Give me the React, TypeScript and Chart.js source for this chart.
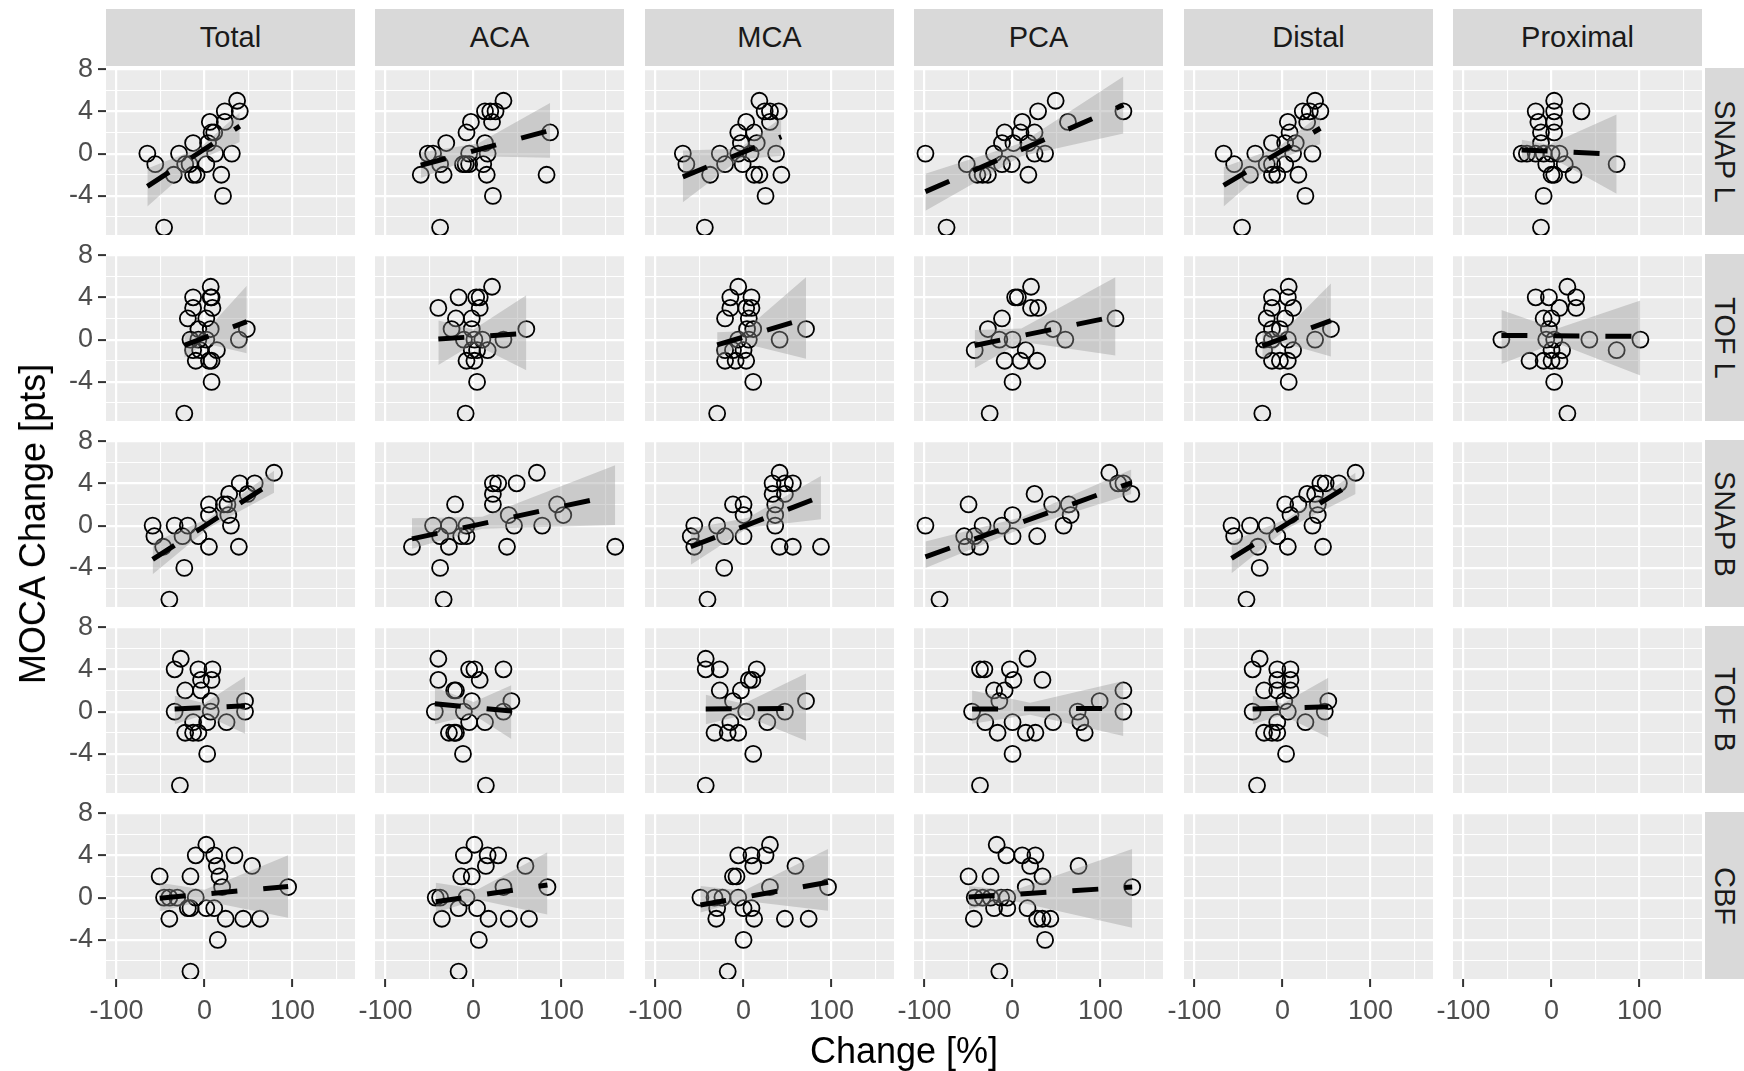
import React, { useEffect, useRef } from "react";
import { Chart, registerables } from "chart.js";
Chart.register(...registerables);

type P = number[];

const ROWS = ["SNAP L", "TOF L", "SNAP B", "TOF B", "CBF"];
const COLS = ["Total", "ACA", "MCA", "PCA", "Distal", "Proximal"];
const X_TITLE = "Change [%]";
const Y_TITLE = "MOCA Change [pts]";
const X_TICKS = [-100, 0, 100];
const X_MINOR = [-50, 50, 150];
const Y_TICKS = [-4, 0, 4, 8];
const Y_MINOR = [-6, -2, 2, 6];
const X_RANGE = [-112, 171];
const Y_RANGE = [-7.7, 8.1];

// ---------- SNAP L ----------
const SNAP_L_TOTAL: P[] = [[37,5],[23,4],[40,4],[6,3],[23,3],[8,2],[11,2],[-13,1],[4,1],[-65,0],[-29,0],[12,0],[31,0],[-56,-1],[-22,-1],[-17,-1],[2,-1],[-35,-2],[-13,-2],[-9,-2],[19,-2],[21,-4],[-46,-7]];
const SNAP_L_TOTAL_FIT: P[] = [[-65,-3.1],[40,2.6]];
const SNAP_L_TOTAL_BAND: P[] = [[-65,-5.0,-1.4],[-5,-0.55,0.55],[40,1.1,3.9]];

const SNAP_L_ACA: P[] = [[34,5],[13,4],[19,4],[25,4],[-3,3],[21,3],[-8,2],[87,2],[-31,1],[13,1],[-52,0],[-46,0],[-5,0],[16,0],[-38,-1],[-12,-1],[-9,-1],[-5,-1],[11,-1],[-60,-2],[-34,-2],[15,-2],[83,-2],[22,-4],[-38,-7]];
const SNAP_L_ACA_FIT: P[] = [[-60,-1.1],[87,2.2]];
const SNAP_L_ACA_BAND: P[] = [[-60,-2.3,0.1],[5,-0.25,0.95],[87,-0.4,4.8]];

const SNAP_L_MCA: P[] = [[18,5],[24,4],[30,4],[40,4],[3,3],[30,3],[-6,2],[12,2],[-3,1],[15,1],[-69,0],[-27,0],[-6,0],[8,0],[37,0],[-65,-1],[-21,-1],[-1,-1],[-38,-2],[12,-2],[18,-2],[43,-2],[25,-4],[-44,-7]];
const SNAP_L_MCA_FIT: P[] = [[-69,-2.2],[43,1.6]];
const SNAP_L_MCA_BAND: P[] = [[-69,-4.6,0.3],[-5,-0.55,0.45],[43,-0.2,3.4]];

const SNAP_L_PCA: P[] = [[49,5],[29,4],[126,4],[63,3],[11,3],[-9,2],[9,2],[25,2],[-12,1],[1,1],[18,1],[-99,0],[-21,0],[25,0],[37,0],[-52,-1],[-12,-1],[-1,-1],[-40,-2],[-34,-2],[-28,-2],[18,-2],[-75,-7]];
const SNAP_L_PCA_FIT: P[] = [[-99,-3.6],[126,4.6]];
const SNAP_L_PCA_BAND: P[] = [[-99,-5.4,-1.9],[10,-0.25,1.0],[126,1.9,7.3]];

const SNAP_L_DISTAL: P[] = [[37,5],[23,4],[31,4],[43,4],[6,3],[28,3],[8,2],[-12,1],[3,1],[15,1],[-67,0],[-31,0],[12,0],[34,0],[-55,-1],[-18,-1],[-12,-1],[3,-1],[-37,-2],[-12,-2],[-6,-2],[18,-2],[26,-4],[-46,-7]];
const SNAP_L_DISTAL_FIT: P[] = [[-67,-3.0],[43,2.4]];
const SNAP_L_DISTAL_BAND: P[] = [[-67,-5.0,-1.3],[-5,-0.55,0.6],[43,0.9,3.7]];

const SNAP_L_PROXIMAL: P[] = [[3,5],[-18,4],[3,4],[34,4],[-15,3],[3,3],[-12,2],[3,2],[-12,1],[-34,0],[-28,0],[-18,0],[-9,0],[0,0],[9,0],[74,-1],[-6,-1],[15,-1],[0,-2],[3,-2],[25,-2],[-9,-4],[-12,-7]];
const SNAP_L_PROXIMAL_FIT: P[] = [[-34,0.35],[74,-0.05]];
const SNAP_L_PROXIMAL_BAND: P[] = [[-34,-0.6,1.3],[-3,-0.25,0.85],[74,-3.8,3.7]];

// ---------- TOF L ----------
const TOF_L_TOTAL: P[] = [[7,5],[-13,4],[7,4],[8,4],[-13,3],[9,3],[-19,2],[2,2],[-7,1],[7,1],[48,1],[-16,0],[-7,0],[2,0],[39,0],[-13,-1],[-5,-1],[14,-1],[-10,-2],[5,-2],[8,-2],[8,-4],[-23,-7]];
const TOF_L_TOTAL_FIT: P[] = [[-23,-0.55],[48,1.7]];
const TOF_L_TOTAL_BAND: P[] = [[-23,-1.7,0.6],[0,-0.35,0.7],[48,-1.3,5.1]];

const TOF_L_ACA: P[] = [[21,5],[-17,4],[3,4],[7,4],[-40,3],[7,3],[-20,2],[-2,2],[-25,1],[-2,1],[60,1],[34,0],[-11,0],[1,0],[10,0],[16,-1],[-2,-1],[4,-1],[-8,-2],[1,-2],[4,-4],[-9,-7]];
const TOF_L_ACA_FIT: P[] = [[-40,0.05],[60,0.6]];
const TOF_L_ACA_BAND: P[] = [[-40,-2.4,1.8],[0,-0.4,0.95],[60,-2.9,4.2]];

const TOF_L_MCA: P[] = [[-6,5],[-15,4],[9,4],[-15,3],[3,3],[9,3],[-21,2],[6,2],[4,1],[11,1],[71,1],[-6,0],[6,0],[41,0],[-21,-1],[-12,-1],[0,-1],[-21,-2],[-9,-2],[3,-2],[11,-4],[-30,-7]];
const TOF_L_MCA_FIT: P[] = [[-30,-0.5],[71,2.0]];
const TOF_L_MCA_BAND: P[] = [[-30,-1.8,0.7],[0,-0.35,0.8],[71,-1.8,5.9]];

const TOF_L_PCA: P[] = [[21,5],[3,4],[6,4],[21,3],[29,3],[-12,2],[117,2],[-28,1],[46,1],[-15,0],[0,0],[60,0],[-43,-1],[15,-1],[-9,-2],[9,-2],[28,-2],[0,-4],[-26,-7]];
const TOF_L_PCA_FIT: P[] = [[-43,-0.55],[117,2.2]];
const TOF_L_PCA_BAND: P[] = [[-43,-2.7,0.9],[10,-0.2,1.05],[117,-1.5,5.9]];

const TOF_L_DISTAL: P[] = [[7,5],[-12,4],[6,4],[-12,3],[12,3],[-18,2],[3,2],[-12,1],[-3,1],[55,1],[-21,0],[-12,0],[6,0],[37,0],[-21,-1],[12,-1],[-12,-2],[-3,-2],[6,-2],[7,-4],[-23,-7]];
const TOF_L_DISTAL_FIT: P[] = [[-23,-0.6],[55,1.8]];
const TOF_L_DISTAL_BAND: P[] = [[-23,-1.9,0.7],[0,-0.3,0.7],[55,-1.6,5.3]];

const TOF_L_PROXIMAL: P[] = [[18,5],[-18,4],[-3,4],[28,4],[9,3],[28,3],[-9,2],[0,2],[-3,1],[-57,0],[-6,0],[3,0],[43,0],[101,0],[0,-1],[12,-1],[74,-1],[-25,-2],[-9,-2],[0,-2],[9,-2],[3,-4],[18,-7]];
const TOF_L_PROXIMAL_FIT: P[] = [[-57,0.4],[101,0.3]];
const TOF_L_PROXIMAL_BAND: P[] = [[-57,-2.3,2.8],[5,-0.3,1.0],[101,-3.4,3.7]];

// ---------- SNAP B ----------
const SNAP_B_TOTAL: P[] = [[79,5],[40,4],[57,4],[28,3],[49,3],[5,2],[22,2],[26,2],[5,1],[27,1],[-59,0],[-34,0],[-19,0],[30,0],[-57,-1],[-25,-1],[-7,-1],[-47,-2],[5,-2],[39,-2],[-23,-4],[-40,-7]];
const SNAP_B_TOTAL_FIT: P[] = [[-59,-3.2],[79,4.2]];
const SNAP_B_TOTAL_BAND: P[] = [[-59,-4.6,-1.6],[5,-0.2,0.7],[79,3.1,5.2]];

const SNAP_B_ACA: P[] = [[72,5],[22,4],[28,4],[49,4],[22,3],[-21,2],[22,2],[95,2],[40,1],[102,1],[-46,0],[-28,0],[-8,0],[46,0],[78,0],[-38,-1],[-14,-1],[-8,-1],[-70,-2],[-28,-2],[38,-2],[161,-2],[-38,-4],[-34,-7]];
const SNAP_B_ACA_FIT: P[] = [[-70,-1.25],[161,2.9]];
const SNAP_B_ACA_BAND: P[] = [[-70,-2.2,0.7],[10,-0.3,0.85],[161,0.05,5.7]];

const SNAP_B_MCA: P[] = [[41,5],[33,4],[47,4],[56,4],[33,3],[47,3],[-12,2],[0,2],[36,2],[0,1],[36,1],[-56,0],[-30,0],[36,0],[-60,-1],[-21,-1],[0,-1],[-56,-2],[41,-2],[56,-2],[88,-2],[-22,-4],[-41,-7]];
const SNAP_B_MCA_FIT: P[] = [[-60,-2.0],[88,2.75]];
const SNAP_B_MCA_BAND: P[] = [[-60,-3.7,-0.3],[5,-0.2,0.75],[88,0.6,4.7]];

const SNAP_B_PCA: P[] = [[110,5],[120,4],[126,4],[25,3],[135,3],[-50,2],[45,2],[64,2],[0,1],[66,1],[-99,0],[-34,0],[-12,0],[58,0],[-55,-1],[-43,-1],[0,-1],[28,-1],[-52,-2],[-37,-2],[-83,-7]];
const SNAP_B_PCA_FIT: P[] = [[-99,-2.95],[135,4.05]];
const SNAP_B_PCA_BAND: P[] = [[-99,-4.0,-1.5],[10,-0.3,0.8],[135,3.0,5.3]];

const SNAP_B_DISTAL: P[] = [[83,5],[43,4],[49,4],[64,4],[28,3],[37,3],[3,2],[18,2],[40,2],[9,1],[40,1],[-58,0],[-37,0],[-18,0],[34,0],[-55,-1],[-6,-1],[-28,-2],[6,-2],[46,-2],[-26,-4],[-41,-7]];
const SNAP_B_DISTAL_FIT: P[] = [[-58,-3.1],[83,4.2]];
const SNAP_B_DISTAL_BAND: P[] = [[-58,-4.5,-1.5],[5,-0.3,0.65],[83,3.0,5.0]];

// ---------- TOF B ----------
const TOF_B_TOTAL: P[] = [[-27,5],[-34,4],[-7,4],[9,4],[-4,3],[8,3],[-22,2],[-4,2],[7,1],[46,1],[-34,0],[7,0],[46,0],[-13,-1],[3,-1],[25,-1],[-22,-2],[-13,-2],[-7,-2],[3,-4],[-28,-7]];
const TOF_B_TOTAL_FIT: P[] = [[-34,0.25],[46,0.55]];
const TOF_B_TOTAL_BAND: P[] = [[-34,-1.2,1.5],[0,-0.3,0.8],[46,-2.1,3.3]];

const TOF_B_ACA: P[] = [[-40,5],[-5,4],[1,4],[34,4],[-40,3],[7,3],[-22,2],[-20,2],[-2,1],[43,1],[-44,0],[-11,0],[34,0],[-5,-1],[13,-1],[-28,-2],[-22,-2],[-20,-2],[-12,-4],[14,-7]];
const TOF_B_ACA_FIT: P[] = [[-44,0.75],[43,0.05]];
const TOF_B_ACA_BAND: P[] = [[-44,-1.2,2.3],[0,-0.3,0.9],[43,-2.6,2.5]];

const TOF_B_MCA: P[] = [[-43,5],[-43,4],[-27,4],[15,4],[6,3],[10,3],[-27,2],[-3,2],[-12,1],[71,1],[3,0],[47,0],[-15,-1],[27,-1],[-33,-2],[-18,-2],[-6,-2],[11,-4],[-43,-7]];
const TOF_B_MCA_FIT: P[] = [[-43,0.25],[71,0.3]];
const TOF_B_MCA_BAND: P[] = [[-43,-1.2,1.6],[0,-0.35,0.75],[71,-2.75,3.6]];

const TOF_B_PCA: P[] = [[17,5],[-37,4],[-32,4],[-3,4],[1,3],[34,3],[-21,2],[-9,2],[126,2],[-15,1],[99,1],[-46,0],[74,0],[126,0],[-31,-1],[0,-1],[46,-1],[77,-1],[-17,-2],[15,-2],[26,-2],[82,-2],[0,-4],[-37,-7]];
const TOF_B_PCA_FIT: P[] = [[-46,0.25],[126,0.3]];
const TOF_B_PCA_BAND: P[] = [[-46,-1.15,2.0],[20,-0.3,0.85],[126,-2.3,2.9]];

const TOF_B_DISTAL: P[] = [[-26,5],[-34,4],[-6,4],[9,4],[-6,3],[9,3],[-21,2],[-6,2],[9,2],[2,1],[52,1],[-34,0],[6,0],[48,0],[-6,-1],[26,-1],[-21,-2],[-12,-2],[-6,-2],[4,-4],[-29,-7]];
const TOF_B_DISTAL_FIT: P[] = [[-34,0.25],[52,0.45]];
const TOF_B_DISTAL_BAND: P[] = [[-34,-1.2,1.5],[0,-0.35,0.75],[52,-2.45,3.2]];

// ---------- CBF ----------
const CBF_TOTAL: P[] = [[2,5],[-10,4],[11,4],[34,4],[14,3],[54,3],[-51,2],[-16,2],[17,2],[20,1],[95,1],[-46,0],[-40,0],[-31,0],[-10,0],[-19,-1],[-16,-1],[2,-1],[11,-1],[-40,-2],[24,-2],[44,-2],[63,-2],[15,-4],[-16,-7]];
const CBF_TOTAL_FIT: P[] = [[-51,-0.05],[95,1.05]];
const CBF_TOTAL_BAND: P[] = [[-51,-1.3,1.4],[0,-0.3,0.75],[95,-1.9,4.0]];

const CBF_ACA: P[] = [[1,5],[-11,4],[16,4],[28,4],[14,3],[59,3],[-14,2],[-2,2],[34,1],[84,1],[-43,0],[-38,0],[-8,0],[-17,-1],[4,-1],[-36,-2],[17,-2],[40,-2],[63,-2],[6,-4],[-17,-7]];
const CBF_ACA_FIT: P[] = [[-43,-0.4],[84,1.2]];
const CBF_ACA_BAND: P[] = [[-43,-1.4,1.4],[5,-0.2,0.8],[84,-1.6,4.3]];

const CBF_MCA: P[] = [[30,5],[-6,4],[9,4],[25,4],[11,3],[59,3],[-12,2],[-8,2],[30,1],[96,1],[-49,0],[-33,0],[-24,0],[-6,0],[-30,-1],[0,-1],[9,-1],[-31,-2],[12,-2],[47,-2],[74,-2],[0,-4],[-18,-7]];
const CBF_MCA_FIT: P[] = [[-49,-0.7],[96,1.45]];
const CBF_MCA_BAND: P[] = [[-49,-1.4,1.1],[0,-0.3,0.65],[96,-1.25,4.6]];

const CBF_PCA: P[] = [[-18,5],[-7,4],[11,4],[26,4],[20,3],[75,3],[-50,2],[-25,2],[34,2],[15,1],[136,1],[-43,0],[-34,0],[-25,0],[-13,0],[-6,0],[-21,-1],[-6,-1],[17,-1],[-44,-2],[28,-2],[34,-2],[43,-2],[37,-4],[-15,-7]];
const CBF_PCA_FIT: P[] = [[-50,0.05],[136,1.0]];
const CBF_PCA_BAND: P[] = [[-50,-1.1,1.1],[0,-0.3,0.65],[136,-2.85,4.6]];

type PanelData = { pts: P[]; fit: P[]; band: P[] };
const PANELS: Record<string, PanelData> = {
  "SNAP L|Total": { pts: SNAP_L_TOTAL, fit: SNAP_L_TOTAL_FIT, band: SNAP_L_TOTAL_BAND },
  "SNAP L|ACA": { pts: SNAP_L_ACA, fit: SNAP_L_ACA_FIT, band: SNAP_L_ACA_BAND },
  "SNAP L|MCA": { pts: SNAP_L_MCA, fit: SNAP_L_MCA_FIT, band: SNAP_L_MCA_BAND },
  "SNAP L|PCA": { pts: SNAP_L_PCA, fit: SNAP_L_PCA_FIT, band: SNAP_L_PCA_BAND },
  "SNAP L|Distal": { pts: SNAP_L_DISTAL, fit: SNAP_L_DISTAL_FIT, band: SNAP_L_DISTAL_BAND },
  "SNAP L|Proximal": { pts: SNAP_L_PROXIMAL, fit: SNAP_L_PROXIMAL_FIT, band: SNAP_L_PROXIMAL_BAND },
  "TOF L|Total": { pts: TOF_L_TOTAL, fit: TOF_L_TOTAL_FIT, band: TOF_L_TOTAL_BAND },
  "TOF L|ACA": { pts: TOF_L_ACA, fit: TOF_L_ACA_FIT, band: TOF_L_ACA_BAND },
  "TOF L|MCA": { pts: TOF_L_MCA, fit: TOF_L_MCA_FIT, band: TOF_L_MCA_BAND },
  "TOF L|PCA": { pts: TOF_L_PCA, fit: TOF_L_PCA_FIT, band: TOF_L_PCA_BAND },
  "TOF L|Distal": { pts: TOF_L_DISTAL, fit: TOF_L_DISTAL_FIT, band: TOF_L_DISTAL_BAND },
  "TOF L|Proximal": { pts: TOF_L_PROXIMAL, fit: TOF_L_PROXIMAL_FIT, band: TOF_L_PROXIMAL_BAND },
  "SNAP B|Total": { pts: SNAP_B_TOTAL, fit: SNAP_B_TOTAL_FIT, band: SNAP_B_TOTAL_BAND },
  "SNAP B|ACA": { pts: SNAP_B_ACA, fit: SNAP_B_ACA_FIT, band: SNAP_B_ACA_BAND },
  "SNAP B|MCA": { pts: SNAP_B_MCA, fit: SNAP_B_MCA_FIT, band: SNAP_B_MCA_BAND },
  "SNAP B|PCA": { pts: SNAP_B_PCA, fit: SNAP_B_PCA_FIT, band: SNAP_B_PCA_BAND },
  "SNAP B|Distal": { pts: SNAP_B_DISTAL, fit: SNAP_B_DISTAL_FIT, band: SNAP_B_DISTAL_BAND },
  "TOF B|Total": { pts: TOF_B_TOTAL, fit: TOF_B_TOTAL_FIT, band: TOF_B_TOTAL_BAND },
  "TOF B|ACA": { pts: TOF_B_ACA, fit: TOF_B_ACA_FIT, band: TOF_B_ACA_BAND },
  "TOF B|MCA": { pts: TOF_B_MCA, fit: TOF_B_MCA_FIT, band: TOF_B_MCA_BAND },
  "TOF B|PCA": { pts: TOF_B_PCA, fit: TOF_B_PCA_FIT, band: TOF_B_PCA_BAND },
  "TOF B|Distal": { pts: TOF_B_DISTAL, fit: TOF_B_DISTAL_FIT, band: TOF_B_DISTAL_BAND },
  "CBF|Total": { pts: CBF_TOTAL, fit: CBF_TOTAL_FIT, band: CBF_TOTAL_BAND },
  "CBF|ACA": { pts: CBF_ACA, fit: CBF_ACA_FIT, band: CBF_ACA_BAND },
  "CBF|MCA": { pts: CBF_MCA, fit: CBF_MCA_FIT, band: CBF_MCA_BAND },
  "CBF|PCA": { pts: CBF_PCA, fit: CBF_PCA_FIT, band: CBF_PCA_BAND },
};

// ---------- layout (pixels) ----------
const FONT = "'Liberation Sans', Arial, Helvetica, sans-serif";
const PANEL_W = 249;
const PANEL_H = 167;
const COL_LEFT = [106, 375, 645, 914, 1184, 1453];
const ROW_TOP = [68, 254, 440, 626, 812];
const STRIP_TOP = 9;
const STRIP_H = 57;
const RSTRIP_LEFT = 1705;
const RSTRIP_W = 39;
const Y_AXIS_W = 66;
const X_AXIS_H = 56;
const TOP_PAD = 18;
const LEFT_PAD = 20;

const bgPlugin = {
  id: "panelBg",
  beforeDraw(chart: any) {
    const { ctx, chartArea } = chart;
    ctx.save();
    ctx.fillStyle = "#EBEBEB";
    ctx.fillRect(chartArea.left, chartArea.top, chartArea.right - chartArea.left, chartArea.bottom - chartArea.top);
    ctx.restore();
  },
};

function Panel({ r, c }: { r: number; c: number }) {
  const ref = useRef<HTMLCanvasElement>(null);
  const leftAxis = c === 0;
  const bottomAxis = r === ROWS.length - 1;
  const padLeft = leftAxis ? Y_AXIS_W : bottomAxis ? LEFT_PAD : 0;
  const padTop = leftAxis ? TOP_PAD : 0;
  const padBottom = bottomAxis ? X_AXIS_H : 0;
  const w = padLeft + PANEL_W;
  const h = padTop + PANEL_H + padBottom;
  const left = COL_LEFT[c] - padLeft;
  const top = ROW_TOP[r] - padTop;

  useEffect(() => {
    if (!ref.current) return;
    const panel = PANELS[ROWS[r] + "|" + COLS[c]];
    const datasets: any[] = [];
    if (panel) {
      datasets.push({
        type: "line",
        data: panel.band.map((b) => ({ x: b[0], y: b[1] })),
        borderColor: "rgba(0,0,0,0)",
        borderWidth: 0,
        pointRadius: 0,
        fill: false,
        order: 2,
      });
      datasets.push({
        type: "line",
        data: panel.band.map((b) => ({ x: b[0], y: b[2] })),
        borderColor: "rgba(0,0,0,0)",
        borderWidth: 0,
        pointRadius: 0,
        fill: "-1",
        backgroundColor: "rgba(153,153,153,0.4)",
        order: 2,
      });
      datasets.push({
        type: "line",
        data: panel.fit.map((p) => ({ x: p[0], y: p[1] })),
        borderColor: "#000000",
        borderWidth: 5,
        borderDash: [26, 26],
        borderCapStyle: "butt",
        pointRadius: 0,
        fill: false,
        order: 1,
      });
      datasets.push({
        type: "scatter",
        data: panel.pts.map((p) => ({ x: p[0], y: p[1] })),
        pointRadius: 8,
        pointStyle: "circle",
        borderColor: "#000000",
        borderWidth: 1.8,
        backgroundColor: "rgba(0,0,0,0)",
        order: 3,
      });
    }
    const isMajorX = (v: number) => X_TICKS.includes(v);
    const isMajorY = (v: number) => Y_TICKS.includes(v);
    const chart = new Chart(ref.current, {
      type: "scatter",
      data: { datasets },
      plugins: [bgPlugin],
      options: {
        animation: false,
        responsive: false,
        maintainAspectRatio: false,
        events: [],
        layout: { autoPadding: false, padding: { top: padTop, left: leftAxis ? 0 : padLeft, right: 0, bottom: 0 } },
        plugins: { legend: { display: false }, tooltip: { enabled: false } },
        scales: {
          x: {
            type: "linear",
            position: "bottom",
            min: X_RANGE[0],
            max: X_RANGE[1],
            border: { display: false },
            grid: {
              color: "#FFFFFF",
              lineWidth: (ctx: any) => (ctx.tick && isMajorX(ctx.tick.value) ? 2.2 : 1.1),
              drawTicks: bottomAxis,
              tickLength: 8,
              tickWidth: 2,
              tickColor: (ctx: any) => (ctx.tick && isMajorX(ctx.tick.value) ? "#333333" : "rgba(0,0,0,0)"),
            },
            ticks: {
              display: bottomAxis,
              autoSkip: false,
              maxRotation: 0,
              minRotation: 0,
              padding: 8,
              color: "#4D4D4D",
              font: { family: FONT, size: 27 },
              callback: (v: any) => (isMajorX(Number(v)) ? String(v) : ""),
            },
            afterBuildTicks: (s: any) => {
              s.ticks = [...X_TICKS, ...X_MINOR].sort((a, b) => a - b).map((v) => ({ value: v }));
            },
            afterFit: (s: any) => {
              s.height = bottomAxis ? X_AXIS_H : 0;
              s.paddingLeft = 0;
              s.paddingRight = 0;
              s.paddingTop = 0;
              s.paddingBottom = 0;
            },
          },
          y: {
            type: "linear",
            position: "left",
            min: Y_RANGE[0],
            max: Y_RANGE[1],
            border: { display: false },
            grid: {
              color: "#FFFFFF",
              lineWidth: (ctx: any) => (ctx.tick && isMajorY(ctx.tick.value) ? 2.2 : 1.1),
              drawTicks: leftAxis,
              tickLength: 8,
              tickWidth: 2,
              tickColor: (ctx: any) => (ctx.tick && isMajorY(ctx.tick.value) ? "#333333" : "rgba(0,0,0,0)"),
            },
            ticks: {
              display: leftAxis,
              autoSkip: false,
              padding: 5,
              color: "#4D4D4D",
              font: { family: FONT, size: 27 },
              callback: (v: any) => (isMajorY(Number(v)) ? String(v) : ""),
            },
            afterBuildTicks: (s: any) => {
              s.ticks = [...Y_TICKS, ...Y_MINOR].sort((a, b) => a - b).map((v) => ({ value: v }));
            },
            afterFit: (s: any) => {
              s.width = leftAxis ? Y_AXIS_W : 0;
              s.paddingLeft = 0;
              s.paddingRight = 0;
              s.paddingTop = 0;
              s.paddingBottom = 0;
            },
          },
        },
      } as any,
    });
    return () => chart.destroy();
  }, [r, c]);

  return (
    <canvas
      ref={ref}
      width={w}
      height={h}
      style={{ position: "absolute", left, top, width: w, height: h }}
    />
  );
}

export default function App() {
  return (
    <div
      style={{
        position: "fixed",
        left: 0,
        top: 0,
        width: 1744,
        height: 1071,
        background: "#FFFFFF",
        overflow: "hidden",
        fontFamily: FONT,
      }}
    >
      {COLS.map((name, i) => (
        <div
          key={name}
          style={{
            position: "absolute",
            left: COL_LEFT[i],
            top: STRIP_TOP,
            width: PANEL_W,
            height: STRIP_H,
            background: "#D9D9D9",
            color: "#1A1A1A",
            fontSize: 29,
            display: "flex",
            alignItems: "center",
            justifyContent: "center",
          }}
        >
          {name}
        </div>
      ))}
      {ROWS.map((name, i) => (
        <div
          key={name}
          style={{
            position: "absolute",
            left: RSTRIP_LEFT,
            top: ROW_TOP[i],
            width: RSTRIP_W,
            height: PANEL_H,
            background: "#D9D9D9",
            color: "#1A1A1A",
            fontSize: 29,
            display: "flex",
            alignItems: "center",
            justifyContent: "center",
          }}
        >
          <span style={{ writingMode: "vertical-rl", whiteSpace: "nowrap" }}>{name}</span>
        </div>
      ))}
      {ROWS.map((_, r) => COLS.map((__, c) => <Panel key={r + "-" + c} r={r} c={c} />))}
      <div
        style={{
          position: "absolute",
          left: 33,
          top: 524,
          transform: "translate(-50%, -50%) rotate(-90deg)",
          whiteSpace: "nowrap",
          fontSize: 36,
          color: "#000000",
        }}
      >
        {Y_TITLE}
      </div>
      <div
        style={{
          position: "absolute",
          left: 904,
          top: 1051,
          transform: "translate(-50%, -50%)",
          whiteSpace: "nowrap",
          fontSize: 36,
          color: "#000000",
        }}
      >
        {X_TITLE}
      </div>
    </div>
  );
}
